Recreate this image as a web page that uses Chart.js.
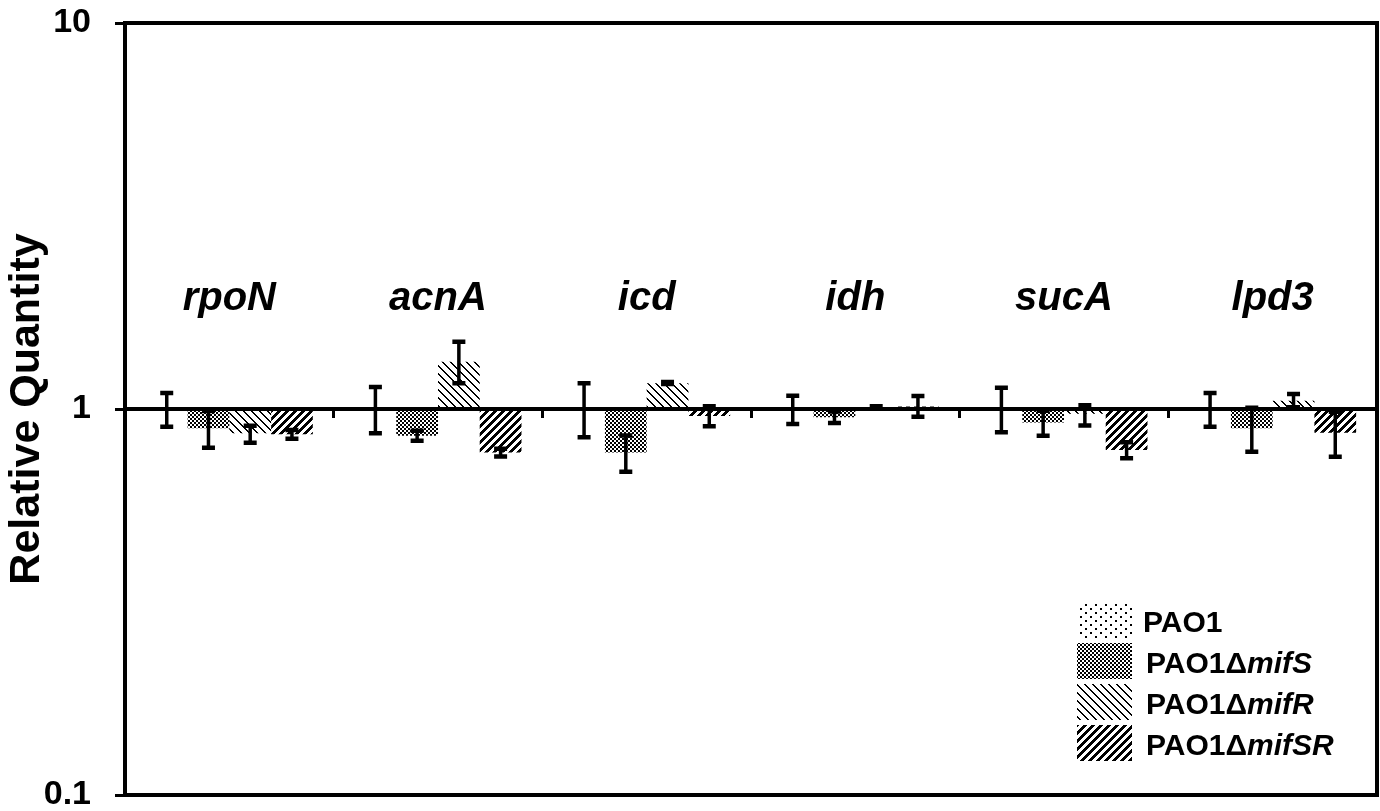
<!DOCTYPE html>
<html>
<head>
<meta charset="utf-8">
<title>Relative Quantity</title>
<script src="https://cdn.jsdelivr.net/npm/chart.js@4/dist/chart.umd.min.js"></script>
<style>
  html, body { margin: 0; padding: 0; background: #fff; }
  #wrap { width: 1380px; height: 811px; position: relative; }
</style>
</head>
<body>
<div id="wrap"><canvas id="qpcrChart"></canvas></div>
<script>
(function(){
  'use strict';

  var categories = ['rpoN', 'acnA', 'icd', 'idh', 'sucA', 'lpd3'];

  var pao1 = [1, 1, 1, 1, 1, 1];
  var pao1Err = [[0.90, 1.10], [0.865, 1.14], [0.845, 1.166], [0.915, 1.082], [0.87, 1.135], [0.90, 1.10]];

  var mifS = [0.891, 0.853, 0.771, 0.952, 0.922, 0.891];
  var mifSErr = [[0.794, 0.988], [0.828, 0.878], [0.688, 0.854], [0.92, 0.985], [0.853, 0.99], [0.775, 1.007]];

  var mifR = [0.865, 1.326, 1.166, 1.012, 0.972, 1.05];
  var mifRErr = [[0.818, 0.905], [1.166, 1.493], [1.16, 1.175], [1.008, 1.016], [0.906, 1.022], [1.01, 1.094]];

  var mifSR = [0.86, 0.771, 0.959, 1.015, 0.783, 0.868];
  var mifSRErr = [[0.838, 0.882], [0.753, 0.789], [0.902, 1.016], [0.955, 1.08], [0.745, 0.82], [0.752, 0.984]];

  var seriesPlain = ['PAO1', 'PAO1\u0394', 'PAO1\u0394', 'PAO1\u0394'];
  var seriesItalic = ['', 'mifS', 'mifR', 'mifSR'];

  var yTicks = [0.1, 1, 10];
  var yTickLabels = ['0.1', '1', '10'];

  var FONT = "'Liberation Sans', Arial, sans-serif";

  // small tiles used as bar fills
  function makePattern(kind, w, h){
    var c = document.createElement('canvas');
    c.width = w; c.height = h;
    var g = c.getContext('2d');
    var img = g.createImageData(w, h);
    for (var y = 0; y < h; y++) {
      for (var x = 0; x < w; x++) {
        var on = false;
        if (kind === 'dots') on = (x < 2 && y < 2) || (x >= 5 && x < 7 && y >= 4 && y < 6);
        if (kind === 'checker') on = ((x >> 1) + (y >> 1)) % 2 === 0;
        if (kind === 'back') on = ((x - y + 16) % 8) < 2;
        if (kind === 'fwd') on = ((x + y) % 8) < 4;
        var k = (y * w + x) * 4;
        img.data[k] = on ? 0 : 255;
        img.data[k + 1] = on ? 0 : 255;
        img.data[k + 2] = on ? 0 : 255;
        img.data[k + 3] = 255;
      }
    }
    g.putImageData(img, 0, 0);
    return c;
  }

  var tiles = [makePattern('dots', 10, 8), makePattern('checker', 8, 8), makePattern('back', 8, 8), makePattern('fwd', 8, 8)];

  var errorBars = {
    id: 'errorBars',
    afterDatasetsDraw: function(chart){
      var ctx = chart.ctx;
      var ys = chart.scales.y;
      ctx.save();
      ctx.strokeStyle = '#000';
      chart.data.datasets.forEach(function(ds, di){
        var meta = chart.getDatasetMeta(di);
        meta.data.forEach(function(bar, i){
          var e = ds.errors[i];
          var lo = ys.getPixelForValue(e[0]);
          var hi = ys.getPixelForValue(e[1]);
          ctx.lineWidth = 3.5;
          ctx.beginPath();
          ctx.moveTo(bar.x, lo); ctx.lineTo(bar.x, hi);
          ctx.stroke();
          ctx.lineWidth = 4.5;
          ctx.beginPath();
          ctx.moveTo(bar.x - 6.5, lo); ctx.lineTo(bar.x + 6.5, lo);
          ctx.moveTo(bar.x - 6.5, hi); ctx.lineTo(bar.x + 6.5, hi);
          ctx.stroke();
        });
      });
      ctx.restore();
    }
  };

  var decorations = {
    id: 'decorations',
    afterDraw: function(chart){
      var ctx = chart.ctx;
      var a = chart.chartArea;
      var xs = chart.scales.x;
      ctx.save();
      // frame
      ctx.strokeStyle = '#000';
      ctx.lineWidth = 4;
      ctx.strokeRect(a.left, a.top, a.right - a.left, a.bottom - a.top);

      // gene names
      ctx.fillStyle = '#000';
      ctx.font = 'italic bold 40px ' + FONT;
      ctx.textAlign = 'center';
      ctx.textBaseline = 'alphabetic';
      categories.forEach(function(name, i){
        ctx.fillText(name, xs.getPixelForValue(i), a.top + 287);
      });

      // legend
      var lx = a.right - 300, ly = a.bottom - 193;
      ctx.textAlign = 'left';
      chart.data.datasets.forEach(function(ds, i){
        var top = ly + i * 41;
        ctx.fillStyle = ds.backgroundColor;
        ctx.fillRect(lx, top, 55, 36);
        ctx.fillStyle = '#000';
        ctx.font = 'bold 30px ' + FONT;
        var tx = lx + (i === 0 ? 66 : 69);
        ctx.fillText(seriesPlain[i], tx, top + 30);
        var w = ctx.measureText(seriesPlain[i]).width;
        ctx.font = 'italic bold 30px ' + FONT;
        ctx.fillText(seriesItalic[i], tx + w, top + 30);
      });
      ctx.restore();
    }
  };

  function initChart(){
    if (!window.Chart) return;
    var ctx = document.getElementById('qpcrChart');
    var ctx2d = ctx.getContext('2d');
    var fills = tiles.map(function(t){ return ctx2d.createPattern(t, 'repeat'); });
    var values = [pao1, mifS, mifR, mifSR];
    var errs = [pao1Err, mifSErr, mifRErr, mifSRErr];

    new Chart(ctx, {
      type: 'bar',
      data: {
        labels: categories,
        datasets: values.map(function(v, i){
          return {
            label: seriesPlain[i] + seriesItalic[i],
            data: v,
            errors: errs[i],
            base: 1,
            backgroundColor: fills[i],
            borderWidth: 0,
            barPercentage: 1,
            categoryPercentage: 0.8
          };
        })
      },
      options: {
        responsive: true,
        maintainAspectRatio: false,
        animation: false,
        layout: { padding: { left: 0, right: 3, top: 23, bottom: 16 } },
        plugins: { legend: { display: false }, tooltip: { enabled: false } },
        scales: {
          x: {
            position: { y: 1 },
            afterFit: function(s){
              s.height = 0;
              s.paddingLeft = 0; s.paddingRight = 0; s.paddingTop = 0; s.paddingBottom = 0;
            },
            ticks: { display: false },
            grid: { drawOnChartArea: false, drawTicks: true, tickLength: 7, lineWidth: 3, color: '#000', offset: true },
            border: { display: true, color: '#000', width: 4, z: 1 }
          },
          y: {
            type: 'logarithmic',
            min: 0.1,
            max: 10,
            afterFit: function(s){
              s.width = 125;
              s.paddingTop = 0; s.paddingBottom = 0;
            },
            afterBuildTicks: function(s){
              s.ticks = yTicks.map(function(v){ return { value: v }; });
            },
            ticks: {
              padding: 24,
              color: '#000',
              font: { family: FONT, size: 34, weight: 'bold' },
              callback: function(value, index){ return yTickLabels[index]; }
            },
            grid: { drawOnChartArea: false, drawTicks: true, tickLength: 10, lineWidth: 3, color: '#000' },
            border: { display: false },
            title: {
              display: true,
              text: 'Relative Quantity',
              color: '#000',
              font: { family: FONT, size: 43, weight: 'bold' },
              padding: { top: 1, bottom: 0 }
            }
          }
        }
      },
      plugins: [errorBars, decorations]
    });
  }

  document.addEventListener('DOMContentLoaded', function(){
    initChart();
  });
})();
</script>
</body>
</html>
